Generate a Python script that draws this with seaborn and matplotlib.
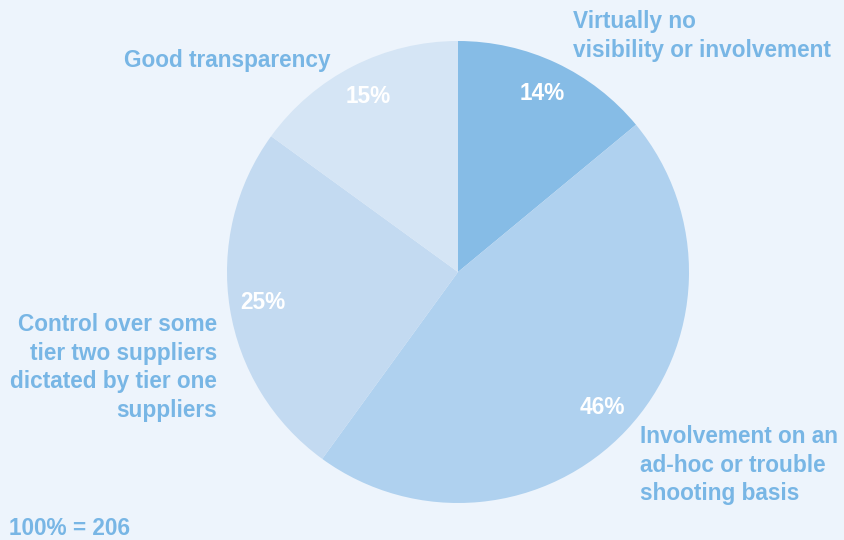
import matplotlib
matplotlib.use("Agg")
import matplotlib.pyplot as plt
import seaborn as sns

categories = ["Virtually no\nvisibility or involvement",
              "Involvement on an\nad-hoc or trouble\nshooting basis",
              "Control over some\ntier two suppliers\ndictated by tier one\nsuppliers",
              "Good transparency"]
values = [14, 46, 25, 15]
total_label = "100% = 206"

sns.set_style("white")
plt.rcParams['font.family'] = ['Liberation Sans', 'DejaVu Sans']

bg = "#EDF4FC"
slice_colors = ["#86BCE6", "#AFD1EF", "#C3DAF1", "#D5E5F5"]
txt_color = "#78B6E5"

W, H = 845, 540
fig = plt.figure(figsize=(W / 100, H / 100), dpi=100)
fig.patch.set_facecolor(bg)

cx, cy, r = 458, 272, 231
ax = fig.add_axes([(cx - r) / W, (H - cy - r) / H, 2 * r / W, 2 * r / H])
ax.set_facecolor(bg)
wedges, texts, autotexts = ax.pie(values, colors=slice_colors, startangle=90, counterclock=False,
                                  autopct=lambda p: f"{p:.0f}%", pctdistance=0.855,
                                  wedgeprops=dict(linewidth=0),
                                  textprops=dict(color="white", fontsize=16.3, fontweight="bold"))
ax.set_xlim(-1, 1)
ax.set_ylim(-1, 1)
ax.set_aspect("equal")
ax.axis("off")

def ftext(x, y, s, ha="left", step=28.7):
    for i, line in enumerate(s.split("\n")):
        fig.text(x / W, 1 - (y + i * step) / H, line, ha=ha, va="baseline", color=txt_color,
                 fontsize=16.3, fontweight="bold")

ftext(573, 28, categories[0], ha="left")
ftext(640, 443, categories[1], ha="left")
ftext(217, 331, categories[2], ha="right")
ftext(331, 67, categories[3], ha="right")
ftext(9, 535, total_label, ha="left")

fig.savefig("out.png", dpi=100, facecolor=bg)
